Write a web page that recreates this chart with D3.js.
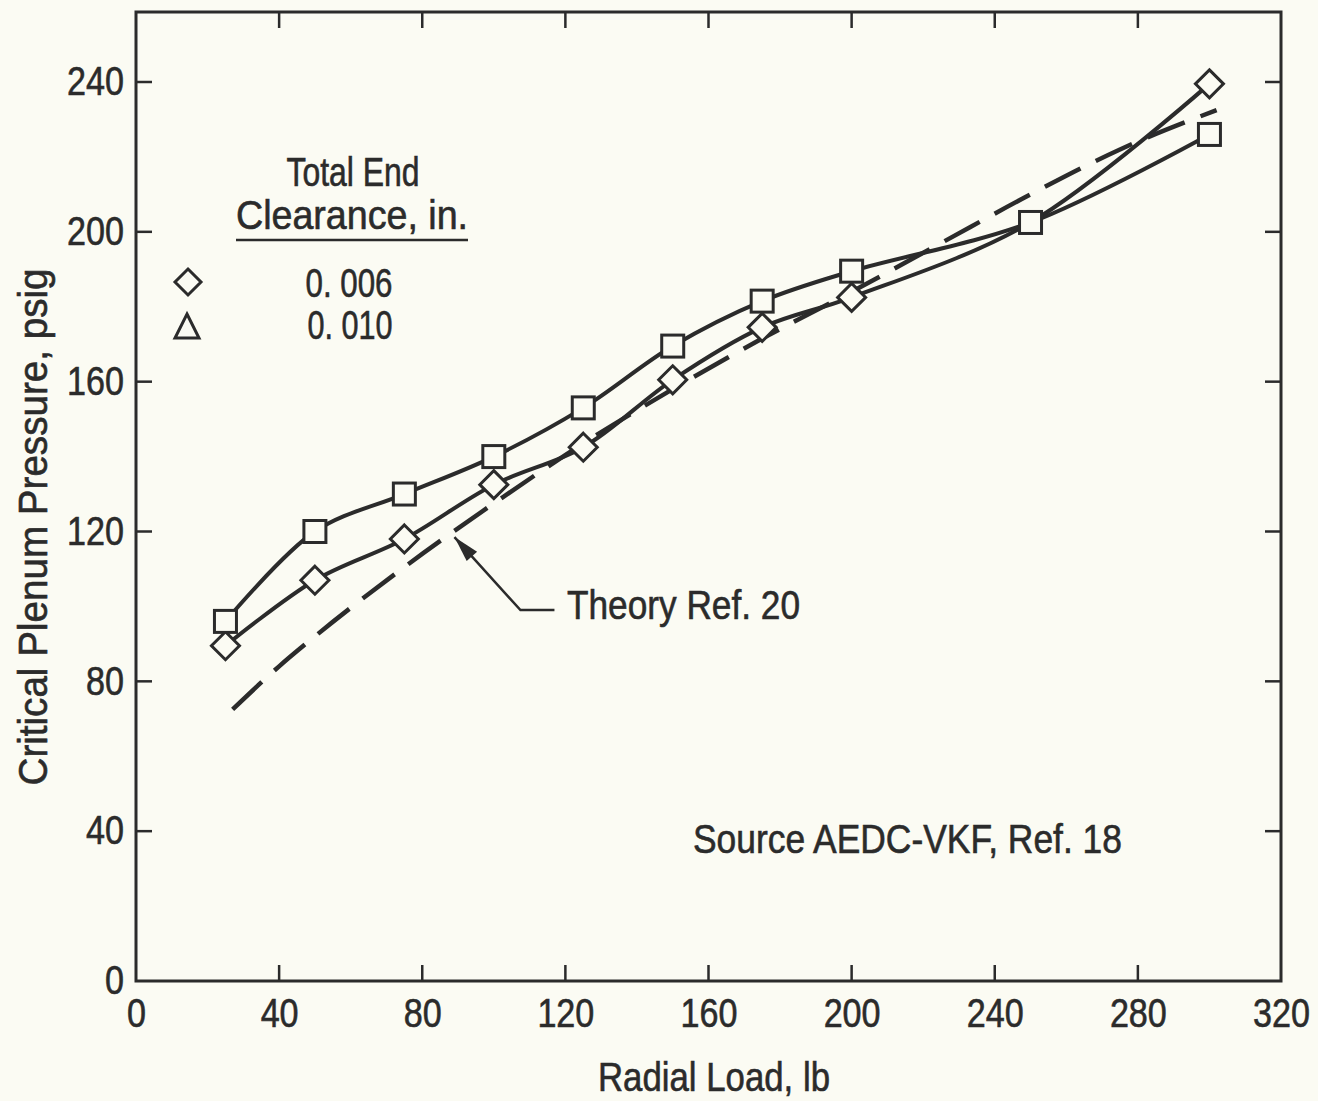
<!DOCTYPE html>
<html>
<head>
<meta charset="utf-8">
<script src="https://cdn.jsdelivr.net/npm/d3@7"></script>
<style>
  html, body { margin: 0; padding: 0; background: #fbfbf3; }
  svg { display: block; }
  text { font-family: "Liberation Sans Narrow", "Liberation Sans", Arial, sans-serif; fill: #2b2b2b; stroke: #2b2b2b; stroke-width: 0.6px; }
</style>
</head>
<body>
<svg id="chart" width="1318" height="1101"></svg>
<script>
// ---- data ----
const xTicks = [0, 40, 80, 120, 160, 200, 240, 280, 320];
const yTicks = [0, 40, 80, 120, 160, 200, 240];

// 0.010 in. clearance (square markers)
const loads0010 = [25, 50, 75, 100, 125, 150, 175, 200, 250, 300];
const pressure0010 = [96, 120, 130, 140, 153, 169.5, 181.5, 189.5, 202.5, 226];

// 0.006 in. clearance (diamond markers)
const loads0006 = [25, 50, 75, 100, 125, 150, 175, 200, 250, 300];
const pressure0006 = [89.5, 107, 118, 132.5, 142.5, 160.5, 174.5, 182.5, 202.5, 239.5];
const loads0006Unmarked = [250]; // point coincides with the square marker

// Theory Ref. 20 (dashed)
const loadsTheory = [27, 40, 50, 75, 100, 125, 150, 175, 200, 225, 250, 275, 302];
const pressureTheory = [72.5, 84, 92, 110.5, 127.5, 143.5, 158, 171.5, 184, 197, 210, 222, 232.5];

const legendTitle = ["Total End", "Clearance, in."];
const legendLabels = ["0. 006", "0. 010"];

// ---- layout ----
(function () {
const ink = "#2b2b2b";
const paper = "#fbfbf3";
const svg = d3.select("#chart");
const pL = 136, pR = 1281, pT = 12, pB = 981;
const FS = 40;

// condense text to a given width (narrow typeface look)
function fit(sel, w) {
  sel.attr("textLength", w).attr("lengthAdjust", "spacingAndGlyphs");
  return sel;
}
const digitW = 19;

const x = d3.scaleLinear().domain([0, 320]).range([pL, pR]);
const y = d3.scaleLinear().domain([0, 240]).range([pB, 82]);

// frame
svg.append("rect")
  .attr("x", pL).attr("y", pT)
  .attr("width", pR - pL).attr("height", pB - pT)
  .attr("fill", "none").attr("stroke", ink).attr("stroke-width", 3);

const tickLen = 16;
const innerX = xTicks.filter(d => d > 0 && d < 320);
const innerY = yTicks.filter(d => d > 0);

// bottom axis labels
const gB = svg.append("g").attr("transform", `translate(0,${pB})`)
  .call(d3.axisBottom(x).tickValues(xTicks).tickSize(0).tickPadding(18).tickFormat(d3.format("d")));
gB.select(".domain").remove();
gB.selectAll("text").attr("font-size", FS).attr("fill", ink).attr("font-family", null)
  .attr("dy", "0.71em")
  .each(function (d) { fit(d3.select(this), String(d).length * digitW); });

// left axis labels
const gL = svg.append("g").attr("transform", `translate(${pL},0)`)
  .call(d3.axisLeft(y).tickValues(yTicks).tickSize(0).tickPadding(12).tickFormat(d3.format("d")));
gL.select(".domain").remove();
gL.selectAll("text").attr("font-size", FS).attr("fill", ink).attr("font-family", null)
  .each(function (d) { fit(d3.select(this), String(d).length * digitW); });

// inward ticks on all four sides
const ticks = svg.append("g").attr("stroke", ink).attr("stroke-width", 2.5);
innerX.forEach(v => {
  ticks.append("line").attr("x1", x(v)).attr("x2", x(v)).attr("y1", pB).attr("y2", pB - tickLen);
  ticks.append("line").attr("x1", x(v)).attr("x2", x(v)).attr("y1", pT).attr("y2", pT + tickLen);
});
innerY.forEach(v => {
  ticks.append("line").attr("x1", pL).attr("x2", pL + tickLen).attr("y1", y(v)).attr("y2", y(v));
  ticks.append("line").attr("x1", pR).attr("x2", pR - tickLen).attr("y1", y(v)).attr("y2", y(v));
});

// axis titles
fit(svg.append("text").attr("x", 714).attr("y", 1091).attr("text-anchor", "middle")
  .attr("font-size", FS).text("Radial Load, lb"), 232);
fit(svg.append("text").attr("transform", "translate(47,527) rotate(-90)")
  .attr("text-anchor", "middle").attr("font-size", FS)
  .text("Critical Plenum Pressure, psig"), 517);

// lines
const line = d3.line().x(d => x(d[0])).y(d => y(d[1])).curve(d3.curveCatmullRom.alpha(0.5));
const theoryLine = d3.line().x(d => x(d[0])).y(d => y(d[1])).curve(d3.curveMonotoneX);

const s0010 = loads0010.map((l, i) => [l, pressure0010[i]]);
const s0006 = loads0006.map((l, i) => [l, pressure0006[i]]);
const sTheory = loadsTheory.map((l, i) => [l, pressureTheory[i]]);

svg.append("path").attr("d", theoryLine(sTheory)).attr("fill", "none")
  .attr("stroke", ink).attr("stroke-width", 4.5).attr("stroke-dasharray", "40,17");
svg.append("path").attr("d", line(s0006)).attr("fill", "none")
  .attr("stroke", ink).attr("stroke-width", 4);
svg.append("path").attr("d", line(s0010)).attr("fill", "none")
  .attr("stroke", ink).attr("stroke-width", 4);

// markers
const sq = 22, dm = 14;
svg.append("g").selectAll("path")
  .data(s0006.filter(d => !loads0006Unmarked.includes(d[0])))
  .join("path")
  .attr("d", d => `M${x(d[0])},${y(d[1]) - dm}L${x(d[0]) + dm},${y(d[1])}L${x(d[0])},${y(d[1]) + dm}L${x(d[0]) - dm},${y(d[1])}Z`)
  .attr("fill", paper).attr("stroke", ink).attr("stroke-width", 3);
svg.append("g").selectAll("rect")
  .data(s0010).join("rect")
  .attr("x", d => x(d[0]) - sq / 2).attr("y", d => y(d[1]) - sq / 2)
  .attr("width", sq).attr("height", sq)
  .attr("fill", paper).attr("stroke", ink).attr("stroke-width", 3);

// legend
fit(svg.append("text").attr("x", 353).attr("y", 186).attr("text-anchor", "middle")
  .attr("font-size", FS).text(legendTitle[0]), 133);
fit(svg.append("text").attr("x", 352).attr("y", 229).attr("text-anchor", "middle")
  .attr("font-size", FS).text(legendTitle[1]), 232);
svg.append("line").attr("x1", 236).attr("x2", 468).attr("y1", 240).attr("y2", 240)
  .attr("stroke", ink).attr("stroke-width", 2.5);
svg.append("path").attr("d", `M188,269L201,282L188,295L175,282Z`)
  .attr("fill", "none").attr("stroke", ink).attr("stroke-width", 3);
svg.append("path").attr("d", `M187,314L199,338L175,338Z`)
  .attr("fill", "none").attr("stroke", ink).attr("stroke-width", 3);
fit(svg.append("text").attr("x", 349).attr("y", 297).attr("text-anchor", "middle")
  .attr("font-size", FS).text(legendLabels[0]), 87);
fit(svg.append("text").attr("x", 350).attr("y", 339).attr("text-anchor", "middle")
  .attr("font-size", FS).text(legendLabels[1]), 85);

// Theory annotation with arrow
const tipX = x(89), tipY = y(118.5);
const elbowX = tipX + 66, elbowY = tipY + 73;
svg.append("path").attr("d", `M${tipX},${tipY}L${elbowX},${elbowY}L${elbowX + 34},${elbowY}`)
  .attr("fill", "none").attr("stroke", ink).attr("stroke-width", 2.5);
const ang = Math.atan2(elbowY - tipY, elbowX - tipX);
const ah = 26, aw = 7;
const bx = tipX + ah * Math.cos(ang), by = tipY + ah * Math.sin(ang);
svg.append("path")
  .attr("d", `M${tipX},${tipY}L${bx - aw * Math.sin(ang)},${by + aw * Math.cos(ang)}L${bx + aw * Math.sin(ang)},${by - aw * Math.cos(ang)}Z`)
  .attr("fill", ink);
fit(svg.append("text").attr("x", 567).attr("y", 619).attr("font-size", FS).text("Theory Ref. 20"), 233);

// source note
fit(svg.append("text").attr("x", 693).attr("y", 853).attr("font-size", FS).text("Source AEDC-VKF, Ref. 18"), 429);
})();
</script>
</body>
</html>
